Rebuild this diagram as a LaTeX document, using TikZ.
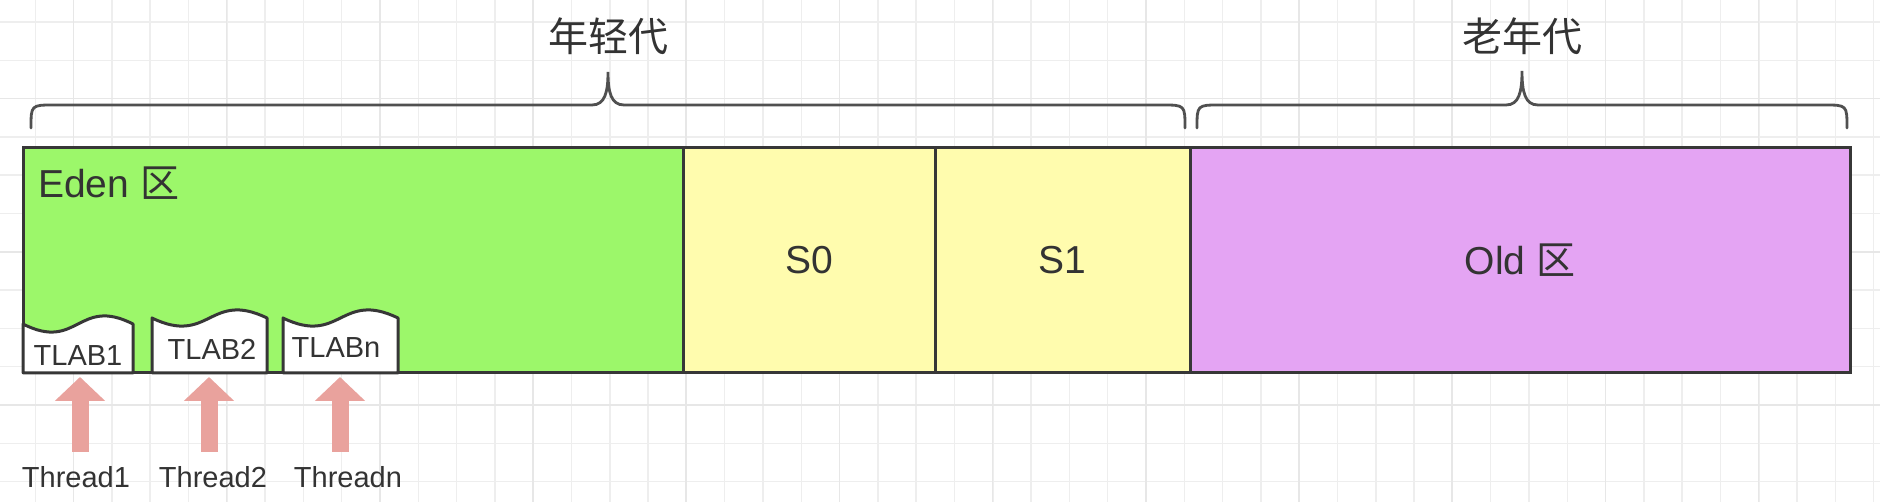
\documentclass[tikz,border=0pt]{standalone}
\usepackage{fontspec}
\setmainfont{Liberation Sans}
\newfontfamily\cjk{Noto Sans CJK SC}
\usetikzlibrary{positioning,arrows.meta}
\definecolor{edengreen}{RGB}{156,247,106}
\definecolor{survyellow}{RGB}{255,252,174}
\definecolor{oldpurple}{RGB}{228,164,243}
\definecolor{boxline}{RGB}{55,55,55}
\definecolor{curlyline}{RGB}{80,80,80}
\definecolor{ink}{RGB}{51,51,51}
\definecolor{allocpink}{RGB}{233,162,157}
\definecolor{gridminor}{RGB}{238,238,238}
\definecolor{gridmajor}{RGB}{231,231,231}
\tikzset
    {
        region/.style = {rectangle, draw=boxline, line width=3pt, outer sep=0pt, inner sep=0pt,
                         minimum height=225pt, text=ink, font=\fontsize{39}{39}\selectfont},
        gentitle/.style = {text=ink, font=\cjk\fontsize{40}{40}\selectfont},
        gencurly/.style = {draw=curlyline, line width=2.8pt, line cap=round},
        tlabbox/.style = {draw=boxline, fill=white, line width=3pt, line join=round},
        tlabtxt/.style = {inner sep=0pt, text=ink, font=\fontsize{29}{29}\selectfont},
        alloc/.style = {draw=allocpink, line width=17pt, -{Triangle[length=24pt,width=49pt]},
                        shorten <=15pt, shorten >=4pt}
    }
\begin{document}
\begin{tikzpicture}[x=1pt, y=-1pt]
    \useasboundingbox (0,0) rectangle (1880,502);
    % background grid
    \begin{scope}
        \clip (0,0) rectangle (1880,502);
        \fill[white] (0,0) rectangle (1880,502);
        \draw[gridminor, line width=1.5pt, shift={(-3,22)}, step=38.3pt] (-40,-60) grid (1920,540);
        \draw[gridmajor, line width=1.5pt, shift={(73.4,98.6)}, step=153.2pt] (-160,-200) grid (1920,540);
    \end{scope}
    % braces
    \draw[gencurly] (31,128) .. controls (31,105) .. (54,105) -- (592,105)
        .. controls (605,105) and (608,92) .. (608,72)
        .. controls (608,92) and (611,105) .. (624,105) -- (1162,105)
        .. controls (1185,105) .. (1185,128);
    \draw[gencurly] (1197,128) .. controls (1197,105) .. (1220,105) -- (1506,105)
        .. controls (1519,105) and (1522,92) .. (1522,71)
        .. controls (1522,92) and (1525,105) .. (1538,105) -- (1824,105)
        .. controls (1847,105) .. (1847,128);
    \node[gentitle] (young) at (608,36) {年轻代};
    \node[gentitle] (tenured) at (1522,36) {老年代};
    % heap
    \node[region, fill=edengreen, minimum width=660pt, anchor=north west] (eden) at (23,148) {};
    \node[region, fill=survyellow, minimum width=252pt, right=0pt of eden] (s0) {S0};
    \node[region, fill=survyellow, minimum width=255pt, right=0pt of s0] (s1) {S1};
    \node[region, fill=oldpurple, minimum width=660pt, right=0pt of s1] (oldgen) {Old {\cjk 区}};
    \node[text=ink, font=\fontsize{39}{39}\selectfont, inner sep=0pt, anchor=base west] (edenlbl) at (38,198) {Eden {\cjk 区}};
    % TLABs
    \draw[tlabbox] (23,373) -- (23,324) .. controls (78,352) and (78,296) .. (133,324) -- (133,373) -- cycle;
    \draw[tlabbox] (152,373) -- (152,318) .. controls (209.5,346) and (209.5,290) .. (267,318) -- (267,373) -- cycle;
    \draw[tlabbox] (283,373) -- (283,318) .. controls (340.5,346) and (340.5,290) .. (398,318) -- (398,373) -- cycle;
    \node[tlabtxt] (tlab1) at (78,356) {TLAB1};
    \node[tlabtxt] (tlab2) at (212,349) {TLAB2};
    \node[tlabtxt] (tlabn) at (336,348) {TLABn};
    \coordinate (foot1) at (80,373);
    \coordinate (foot2) at (209,373);
    \coordinate (footn) at (340,373);
    % threads
    \node[tlabtxt] (thread1) at (76,477.5) {Thread1};
    \node[tlabtxt] (thread2) at (213,477.5) {Thread2};
    \node[tlabtxt] (threadn) at (348,477.5) {Threadn};
    \draw[alloc] (thread1.north -| foot1) -- (foot1);
    \draw[alloc] (thread2.north -| foot2) -- (foot2);
    \draw[alloc] (threadn.north -| footn) -- (footn);
\end{tikzpicture}
\end{document}
